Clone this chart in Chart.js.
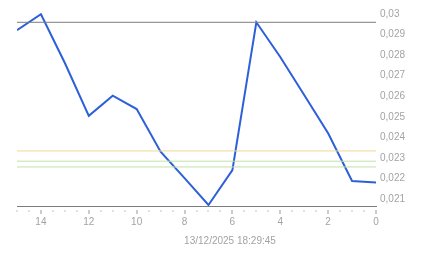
<!DOCTYPE html>
<html>
<head>
<meta charset="utf-8">
<script src="https://cdn.jsdelivr.net/npm/chart.js@4/dist/chart.umd.min.js"></script>
<style>
html,body{margin:0;padding:0;background:#fff;}
#wrap{width:443px;height:258px;}
</style>
</head>
<body>
<div id="wrap"><canvas id="c" width="443" height="258"></canvas></div>
<script>
// ---- data ----
const xValues = [15, 14, 13, 12, 11, 10, 9, 8, 7, 6, 5, 4, 3, 2, 1, 0];
const prices  = [0.02922, 0.02999, 0.02762, 0.02505, 0.02603, 0.02538, 0.02330, 0.02202,
                 0.02071, 0.02241, 0.02960, 0.02791, 0.02606, 0.02420, 0.02188, 0.02180];
const refTop    = 0.02960;
const refYellow = 0.02334;
const refGreen1 = 0.02284;
const refGreen2 = 0.02256;
const xTickValues = [14, 12, 10, 8, 6, 4, 2, 0];
const yTickValues = [0.021, 0.022, 0.023, 0.024, 0.025, 0.026, 0.027, 0.028, 0.029, 0.03];
const titleText = '13/12/2025 18:29:45';
const yMin = 0.02066, yMax = 0.03049;
const xMin = 0, xMax = 15;

function hline(v) { return [{x: xMax, y: v}, {x: xMin, y: v}]; }

const tickPlugin = {
  id: 'minorTicks',
  afterDraw(chart) {
    const ctx = chart.ctx, xs = chart.scales.x, b = chart.chartArea.bottom;
    ctx.save();
    for (let i = 0; i <= xMax * 2; i++) {
      const v = i / 2;
      const px = Math.round(xs.getPixelForValue(v)) - 0.5;
      const major = (i % 4 === 0);
      ctx.fillStyle = major ? '#9a9a9a' : '#c4c4c4';
      ctx.fillRect(px, Math.round(b) + 4, 1, major ? 4 : 2);
    }
    ctx.restore();
  }
};

const lblColor = '#a3a3a3';
new Chart(document.getElementById('c'), {
  type: 'line',
  data: {
    datasets: [
      { data: hline(refTop), borderColor: '#7c7c7c', borderWidth: 1, pointRadius: 0 },
      { data: hline(refYellow), borderColor: '#efd994', borderWidth: 1, pointRadius: 0 },
      { data: hline(refGreen1), borderColor: '#bfe2a9', borderWidth: 1, pointRadius: 0 },
      { data: hline(refGreen2), borderColor: '#bfe2a9', borderWidth: 1, pointRadius: 0 },
      { data: xValues.map((x, i) => ({x: x, y: prices[i]})), borderColor: '#2d60d8',
        borderWidth: 2, pointRadius: 0, tension: 0, borderJoinStyle: 'miter' }
    ]
  },
  options: {
    responsive: false,
    animation: false,
    layout: { padding: { left: 17, top: 4, right: 0, bottom: 0 } },
    plugins: {
      legend: { display: false },
      tooltip: { enabled: false },
      title: {
        display: true, position: 'bottom', text: titleText, color: lblColor,
        font: { family: 'Liberation Sans', size: 10, weight: 'normal' }, padding: { top: 0, bottom: 11 }
      }
    },
    scales: {
      x: {
        type: 'linear', reverse: true, min: xMin, max: xMax,
        afterBuildTicks: s => { s.ticks = xTickValues.map(v => ({value: v})); },
        afterFit: s => { s.height = 29; s.paddingLeft = 0; s.paddingRight = 0; },
        grid: { display: false, drawTicks: false },
        border: { display: true, color: '#7c7c7c', width: 1 },
        ticks: { color: lblColor, font: { family: 'Liberation Sans', size: 10 }, padding: 10,
                 maxRotation: 0, autoSkip: false, callback: v => String(v) }
      },
      y: {
        position: 'right', min: yMin, max: yMax,
        afterBuildTicks: s => { s.ticks = yTickValues.map(v => ({value: v})); },
        afterFit: s => { s.width = 67; s.paddingTop = 0; s.paddingBottom = 0; },
        grid: { display: false, drawTicks: false },
        border: { display: false },
        ticks: { color: lblColor, font: { family: 'Liberation Sans', size: 10 }, padding: 4,
                 callback: v => String(v).replace('.', ',') }
      }
    }
  },
  plugins: [tickPlugin]
});
</script>
</body>
</html>
